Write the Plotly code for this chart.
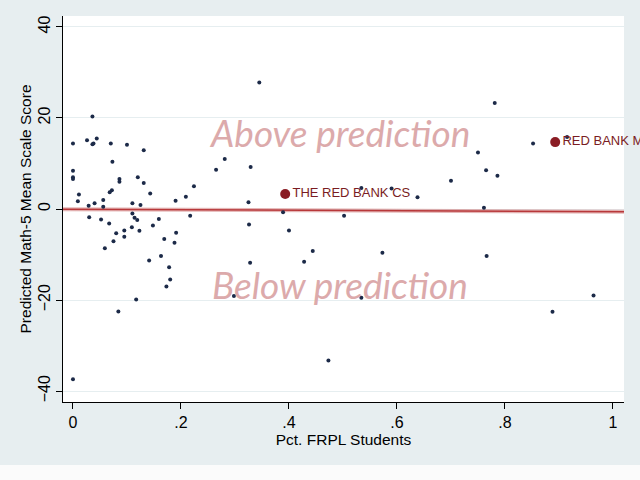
import plotly.graph_objects as go

# school-level residuals: pct FRPL vs predicted math-5 score gap
frpl = [0.036, 0.0, 0.026, 0.036, 0.038, 0.044, 0.07, 0.10, 0.131, 0.073,
        0.0, 0.0, 0.0, 0.086, 0.086, 0.12, 0.131, 0.072, 0.068, 0.011,
        0.009, 0.029, 0.04, 0.056, 0.056, 0.11, 0.125, 0.143, 0.19, 0.209,
        0.224, 0.265, 0.03, 0.052, 0.067, 0.08, 0.075, 0.059, 0.095, 0.095,
        0.11, 0.114, 0.119, 0.109, 0.123, 0.148, 0.159, 0.169, 0.188, 0.191,
        0.217, 0.141, 0.163, 0.178, 0.18, 0.173, 0.117, 0.084, 0.0,
        0.345, 0.281, 0.329, 0.325, 0.389, 0.534, 0.59, 0.638, 0.502, 0.326,
        0.40, 0.444, 0.573, 0.428, 0.328, 0.298, 0.534, 0.473,
        0.781, 0.852, 0.915, 0.75, 0.765, 0.786, 0.70, 0.761, 0.766, 0.964, 0.888]
score = [20.3, 14.4, 15.1, 14.2, 14.4, 15.5, 14.4, 14.1, 12.9, 10.4,
         8.4, 7.0, 6.6, 6.6, 6.0, 7.0, 5.7, 4.1, 3.7, 3.2,
         1.7, 0.7, 1.25, 2.0, 0.5, 1.25, 0.9, 3.4, 1.8, 2.7,
         5.0, 8.6, -1.8, -2.3, -3.2, -5.3, -7.1, -8.6, -4.7, -6.1,
         -1.0, -1.9, -2.4, -4.0, -4.8, -3.6, -2.2, -6.6, -7.4, -5.2,
         -1.5, -11.3, -10.3, -12.8, -15.5, -17.0, -19.9, -22.5, -37.4,
         27.8, 11.0, 9.2, 1.5, -0.7, 4.6, 4.5, 2.6, -1.5, -3.4,
         -4.7, -9.2, -9.6, -11.6, -11.8, -19.1, -19.5, -33.3,
         23.3, 14.4, 15.8, 12.4, 8.5, 7.3, 6.2, 0.3, -10.3, -19.0, -22.6]

# highlighted schools
hl_frpl = [0.393, 0.893]
hl_score = [3.3, 14.7]
hl_names = ["THE RED BANK CS", "RED BANK M"]

# fitted line
fit_x = [-0.0185, 1.0204]
fit_y = [-0.05, -0.6]

x_ticks = [0, 0.2, 0.4, 0.6, 0.8, 1]
x_labels = ["0", ".2", ".4", ".6", ".8", "1"]
y_ticks = [-40, -20, 0, 20, 40]

bg = "#e7eef0"
grid = "#e6eef0"

fig = go.Figure()

fig.add_trace(go.Scatter(x=fit_x, y=fit_y, mode="lines",
                         line=dict(color="rgba(205,120,120,0.55)", width=4),
                         hoverinfo="skip", showlegend=False))
fig.add_trace(go.Scatter(x=fit_x, y=fit_y, mode="lines",
                         line=dict(color="#b8383a", width=1.5),
                         showlegend=False))

fig.add_trace(go.Scatter(x=frpl, y=score, mode="markers",
                         marker=dict(color="#1c2a48", size=4),
                         showlegend=False))

fig.add_trace(go.Scatter(x=hl_frpl, y=hl_score, mode="markers+text",
                         text=hl_names, textposition="middle right",
                         textfont=dict(family="Liberation Sans, Arial", size=13, color="#7a1c22"),
                         marker=dict(color="#8a1c24", size=10),
                         cliponaxis=False, showlegend=False))

note_font = dict(family="Lato", size=37, color="#dcaaab", style="italic")
fig.add_annotation(x=0.494, y=16.7, text="Above prediction", showarrow=False, font=note_font)
fig.add_annotation(x=0.494, y=-16.5, text="Below prediction", showarrow=False, font=note_font)

# white strip under the grey panel
fig.add_shape(type="rect", xref="paper", yref="paper", x0=-0.2, x1=1.2, y0=-0.163, y1=-0.25,
              fillcolor="#fbfbfb", line=dict(width=0), layer="below")

fig.update_xaxes(range=[-0.0185, 1.0204], tickvals=x_ticks, ticktext=x_labels,
                 showgrid=False, zeroline=False, showline=True, linecolor="black", linewidth=1,
                 ticks="outside", ticklen=6, tickcolor="black",
                 tickfont=dict(family="Liberation Sans, Arial", size=16, color="black"),
                 title=dict(text="Pct. FRPL Students", standoff=2,
                            font=dict(family="Liberation Sans, Arial", size=15.5, color="black")))
fig.update_yaxes(range=[-42.4, 42.4], tickvals=y_ticks, tickangle=-90,
                 showgrid=True, gridcolor=grid, gridwidth=1, zeroline=False,
                 showline=True, linecolor="black", linewidth=1,
                 ticks="outside", ticklen=6, tickcolor="black",
                 tickfont=dict(family="Liberation Sans, Arial", size=16, color="black"),
                 title=dict(text="Predicted Math-5 Mean Scale Score", standoff=0,
                            font=dict(family="Liberation Sans, Arial", size=15.5, color="black")))

fig.update_layout(width=640, height=480,
                  margin=dict(l=63, r=16, t=16, b=78),
                  paper_bgcolor=bg, plot_bgcolor="white")

fig.write_html("out.html", config={"displayModeBar": False},
               post_script="document.body.style.margin='0';")
